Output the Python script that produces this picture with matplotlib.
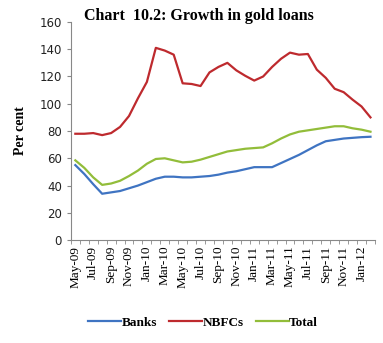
import matplotlib.pyplot as plt
import numpy as np

# monthly growth, May-09 to Feb-12
months = ['May-09', 'Jun-09', 'Jul-09', 'Aug-09', 'Sep-09', 'Oct-09', 'Nov-09', 'Dec-09',
          'Jan-10', 'Feb-10', 'Mar-10', 'Apr-10', 'May-10', 'Jun-10', 'Jul-10', 'Aug-10',
          'Sep-10', 'Oct-10', 'Nov-10', 'Dec-10', 'Jan-11', 'Feb-11', 'Mar-11', 'Apr-11',
          'May-11', 'Jun-11', 'Jul-11', 'Aug-11', 'Sep-11', 'Oct-11', 'Nov-11', 'Dec-11',
          'Jan-12', 'Feb-12']
banks = [55, 48.5, 41, 34, 35, 36, 38, 40, 42.5, 45, 46.5, 46.5, 46, 46, 46.5, 47,
         48, 49.5, 50.5, 52, 53.5, 53.5, 53.5, 56.5, 59.5, 62.5, 66, 69.5, 72.5, 73.5,
         74.5, 75, 75.5, 75.8]
nbfcs = [78, 78, 78.5, 77, 78.5, 83, 91, 104, 116, 141, 139, 136, 115, 114.5, 113, 123,
         127, 130, 124.5, 120.5, 117, 120, 127, 133, 137.5, 136, 136.5, 125, 119, 111,
         108.5, 103, 98, 90]
total = [58.5, 53, 46, 40.5, 41.5, 43.5, 47, 51, 56, 59.5, 60, 58.5, 57, 57.5, 59, 61,
         63, 65, 66, 67, 67.5, 68, 71, 74.5, 77.5, 79.5, 80.5, 81.5, 82.5, 83.5, 83.5,
         82, 81, 79.5]

serif = 'Liberation Serif'
x = np.arange(len(months))

fig = plt.figure(figsize=(3.83, 3.43), dpi=100)
ax = fig.add_axes([0.185, 0.30, 0.794, 0.636])

ax.plot(x, banks, color='#3F74C2', lw=1.6, label='Banks')
ax.plot(x, nbfcs, color='#BE2A2E', lw=1.6, label='NBFCs')
ax.plot(x, total, color='#92BD3A', lw=1.6, label='Total')

ax.set_xlim(-0.5, len(months) - 0.5)
ax.set_ylim(0, 160)
ax.set_yticks(range(0, 161, 20))
ax.set_xticks(x[::2])
ax.set_xticklabels(months[::2], rotation=90, fontfamily=serif, fontsize=9.5)
ax.set_xticks(np.arange(-0.5, len(months), 1), minor=True)
ax.tick_params(axis='x', which='major', length=0, pad=4)
ax.tick_params(axis='x', which='minor', length=3, color='#888888')
ax.tick_params(axis='y', length=3, color='#888888', labelsize=8.5, labelcolor='#222222')

for s in ['top', 'right']:
    ax.spines[s].set_visible(False)
for s in ['left', 'bottom']:
    ax.spines[s].set_color('#888888')

ax.set_ylabel('Per cent', fontfamily=serif, fontweight='bold', fontsize=10, labelpad=9)
fig.suptitle('Chart  10.2: Growth in gold loans', fontfamily=serif, fontweight='bold',
             fontsize=11.5, x=0.52, y=0.978)
fig.legend(loc='center', bbox_to_anchor=(0.53, 0.06), ncol=3, frameon=False,
           prop={'family': serif, 'weight': 'bold', 'size': 9.5},
           handlelength=2.5, handletextpad=0.05, columnspacing=0.9)

fig.savefig('out.png', dpi=100)
